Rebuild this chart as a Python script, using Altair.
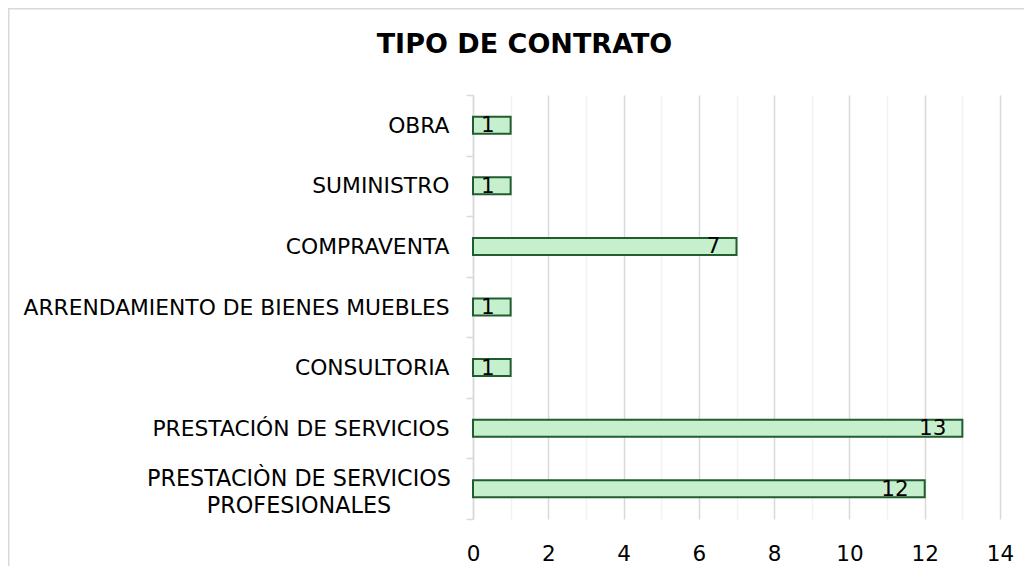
import altair as alt
import pandas as pd

title_text = "TIPO DE CONTRATO"
categories = [
    "OBRA",
    "SUMINISTRO",
    "COMPRAVENTA",
    "ARRENDAMIENTO DE BIENES MUEBLES",
    "CONSULTORIA",
    "PRESTACIÓN DE SERVICIOS",
    "PRESTACIÒN DE SERVICIOS|PROFESIONALES",
]
values = [1, 1, 7, 1, 1, 13, 12]
x_ticks = list(range(0, 15))

df = pd.DataFrame({"tipo": categories, "cantidad": values})

FONT = "DejaVu Sans"

y_enc = alt.Y(
    "tipo:N",
    sort=categories,
    scale=alt.Scale(paddingInner=0, paddingOuter=0),
    axis=alt.Axis(
        title=None,
        labelExpr="indexof(datum.label, '|') > 0 ? '' : datum.label",
        labelFont=FONT,
        labelFontSize=21.8,
        labelColor="#000000",
        labelPadding=17,
        labelLimit=0,
        tickBand="extent",
        tickSize=7,
        tickColor="#d9d9d9",
        tickWidth=1.5,
        domainColor="#d9d9d9",
        domainWidth=1.5,
        grid=False,
    ),
)

x_enc = alt.X(
    "cantidad:Q",
    scale=alt.Scale(domain=[0, 14], nice=False),
    axis=alt.Axis(
        title=None,
        values=x_ticks,
        labelExpr="datum.value % 2 === 0 ? datum.label : ''",
        labelFlush=False,
        grid=True,
        gridColor={
            "condition": {"test": "datum.value % 2 === 0", "value": "#d9d9d9"},
            "value": "#f2f2f2",
        },
        gridWidth=1.5,
        domain=False,
        ticks=False,
        labelFont=FONT,
        labelFontSize=21.5,
        labelColor="#000000",
        labelPadding=24,
    ),
)

base = alt.Chart(df).encode(y=y_enc, x=x_enc)

bars = base.mark_bar(size=17, fill="#c6efce", stroke="#215e2e", strokeWidth=2)

labels = base.mark_text(
    align="right", baseline="middle", dx=-16, dy=1, font=FONT, fontSize=21.5, color="#000000"
).encode(text="cantidad:Q")

# two-line category label, lines centred on each other as in the reference
wrapped = (
    alt.Chart(df)
    .transform_filter("indexof(datum.tipo, '|') > 0")
    .mark_text(
        align="center",
        baseline="middle",
        lineBreak="|",
        lineHeight=27,
        dy=-10,
        font=FONT,
        fontSize=22.3,
        color="#000000",
    )
    .encode(
        y=alt.Y("tipo:N", sort=categories),
        x=alt.value(-174),
        text="tipo:N",
    )
)

frame = alt.Chart(pd.DataFrame({"f": [0]})).mark_rect(
    fillOpacity=0, stroke="#d9d9d9", strokeWidth=1.5
).encode(
    x=alt.value(-464.25), x2=alt.value(2000), y=alt.value(-86.25), y2=alt.value(2000)
)

title = alt.Chart(pd.DataFrame({"t": [title_text]})).mark_text(
    align="center", baseline="middle", font=FONT, fontSize=27, fontWeight="bold", color="#000000"
).encode(x=alt.value(51.5), y=alt.value(-50), text="t:N")

chart = (
    alt.layer(frame, bars, labels, wrapped, title)
    .properties(
        width=527,
        height=424,
        autosize="none",
        padding={"left": 465, "top": 87, "right": 24, "bottom": 47},
    )
    .configure_view(stroke=None)
)

chart.save("out.html", embed_options={"renderer": "svg", "actions": False})
